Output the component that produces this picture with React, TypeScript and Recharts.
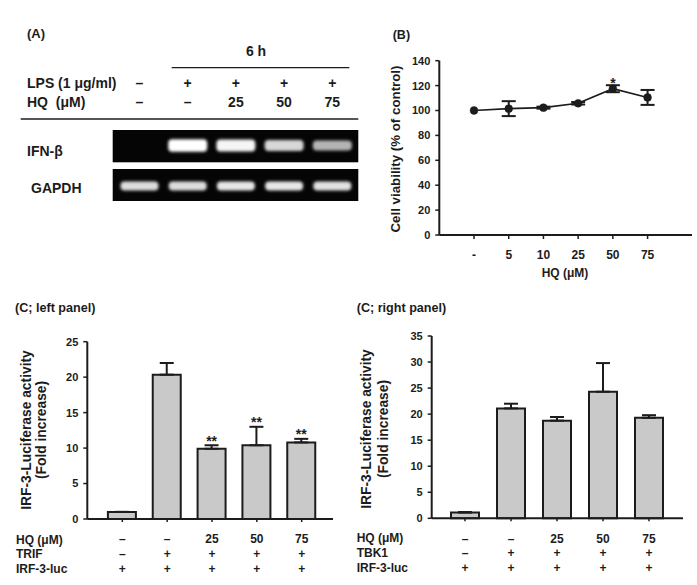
import React from 'react';
import { LineChart, Line, BarChart, Bar, XAxis, YAxis, ErrorBar, LabelList } from 'recharts';

const FONT = '"Liberation Sans", Arial, Helvetica, sans-serif';
const INK = '#1c1c1c';
const BAR_FILL = '#c9c9c9';

// ---------- Panel A (RT-PCR gel) ----------
const lpsSigns = ['–', '+', '+', '+', '+'];
const gelHQ = ['–', '–', '25', '50', '75'];
const ifnIntensity = [0, 1.0, 0.96, 0.84, 0.7];
const gapdhIntensity = [0.86, 0.86, 0.9, 0.9, 0.88];

// ---------- Panel B (cell viability) ----------
const viabilityCategories = ['-', '5', '10', '25', '50', '75'];
const viabilityValues = [100, 101.5, 102.3, 105.8, 117.5, 110.5];
const viabilityErrors = [0, 6, 0.8, 1, 2.8, 6];
const viabilitySig = ['', '', '', '', '*', ''];
const viabilityTicks = [0, 20, 40, 60, 80, 100, 120, 140];

// ---------- Panel C left (TRIF) ----------
const trifHQ = ['–', '–', '25', '50', '75'];
const trifTRIF = ['–', '+', '+', '+', '+'];
const trifLuc = ['+', '+', '+', '+', '+'];
const trifValues = [1, 20.35, 9.9, 10.4, 10.8];
const trifErrors = [0, 1.65, 0.5, 2.6, 0.5];
const trifSig = ['', '', '**', '**', '**'];
const trifTicks = [0, 5, 10, 15, 20, 25];

// ---------- Panel C right (TBK1) ----------
const tbkHQ = ['–', '–', '25', '50', '75'];
const tbkTBK1 = ['–', '+', '+', '+', '+'];
const tbkLuc = ['+', '+', '+', '+', '+'];
const tbkValues = [1.1, 21.1, 18.75, 24.3, 19.3];
const tbkErrors = [0.1, 0.9, 0.7, 5.5, 0.5];
const tbkSig = ['', '', '', '', ''];
const tbkTicks = [0, 5, 10, 15, 20, 25, 30, 35];

const bData = viabilityCategories.map((c, i) => ({
  x: i + 1,
  cat: c,
  v: viabilityValues[i],
  e: viabilityErrors[i],
  sig: viabilitySig[i],
}));

const trifData = trifValues.map((v, i) => ({
  id: 'c' + i,
  v,
  err: [0, trifErrors[i]],
  sig: trifSig[i],
}));

const tbkData = tbkValues.map((v, i) => ({
  id: 'c' + i,
  v,
  err: [0, tbkErrors[i]],
  sig: tbkSig[i],
}));

const textStyle = { fontFamily: FONT, fontWeight: 700, fill: INK } as const;
const axisLine = { stroke: INK, strokeWidth: 2 };
const tickLine = { stroke: INK, strokeWidth: 1.5 };

// B geometry
const B_H = 250;
const B_TOP = 20.7;
const B_XH = 55;
const B_PLOT_H = B_H - B_TOP - B_XH;

const ROW_DY = [21.3, 35.6, 50.6];

const makeRowTick = (rows: string[][]) => (props: any) => {
  const { x, y, index } = props;
  return (
    <g>
      {rows.map((r, k) => (
        <text key={k} x={x} y={y + ROW_DY[k]} textAnchor="middle" fontSize={12} style={textStyle}>
          {r[index]}
        </text>
      ))}
    </g>
  );
};

const makeBarStar = (errors: number[], values: number[]) => (props: any) => {
  const { x, y, width, height, value, index } = props;
  if (!value) return null;
  const pxPerUnit = height / values[index];
  const errTop = y - errors[index] * pxPerUnit;
  return (
    <text x={x + width / 2} y={errTop + 0.5} textAnchor="middle" fontSize={14} style={textStyle}>
      {value}
    </text>
  );
};

const LineStar = (props: any) => {
  const { x, y, value, index } = props;
  if (!value) return null;
  const errTop = y - (viabilityErrors[index] * B_PLOT_H) / 140;
  return (
    <text x={x} y={errTop + 2.5} textAnchor="middle" fontSize={14} style={textStyle}>
      {value}
    </text>
  );
};

const LANE_X0 = 139.5;
const LANE_PITCH = 48.2;

function Overlay() {
  const laneX = (i: number) => LANE_X0 + LANE_PITCH * i;
  return (
    <svg width={697} height={585} style={{ position: 'absolute', left: 0, top: 0 }}>
      <defs>
        <filter id="bandBlur" x="-30%" y="-80%" width="160%" height="260%">
          <feGaussianBlur stdDeviation="1.4" />
        </filter>
      </defs>
      {/* Panel A */}
      <text x={27} y={38} fontSize={13} style={textStyle}>(A)</text>
      <text x={256} y={56} fontSize={14} textAnchor="middle" style={textStyle}>6 h</text>
      <line x1={171.7} x2={349.3} y1={67.7} y2={67.7} stroke={INK} strokeWidth={1.3} />
      <text x={27} y={88.3} fontSize={14} style={textStyle}>LPS (1 μg/ml)</text>
      <text x={27} y={106.7} fontSize={14} style={{ ...textStyle, whiteSpace: 'pre' }}>{'HQ  (μM)'}</text>
      {lpsSigns.map((s, i) => (
        <text key={'l' + i} x={laneX(i)} y={88.3} fontSize={14} textAnchor="middle" style={textStyle}>{s}</text>
      ))}
      {gelHQ.map((s, i) => (
        <text key={'h' + i} x={laneX(i)} y={106.7} fontSize={14} textAnchor="middle" style={textStyle}>{s}</text>
      ))}
      <line x1={20.7} x2={358.3} y1={119} y2={119} stroke={INK} strokeWidth={1.3} />
      <text x={27} y={155.5} fontSize={14} style={textStyle}>IFN-β</text>
      <text x={31} y={192.7} fontSize={14} style={textStyle}>GAPDH</text>
      <rect x={112.7} y={130} width={245.6} height={32.3} fill="#050505" />
      <rect x={112.7} y={169} width={245.6} height={32} fill="#050505" />
      {ifnIntensity.map((v, i) =>
        v > 0 ? (
          <rect
            key={'ifn' + i}
            x={laneX(i) - 19.5}
            y={145.5 - (4 + 8.5 * v) / 2}
            width={39}
            height={4 + 8.5 * v}
            rx={4}
            fill="#ffffff"
            fillOpacity={v}
            filter="url(#bandBlur)"
          />
        ) : null
      )}
      {gapdhIntensity.map((v, i) => (
        <rect
          key={'g' + i}
          x={laneX(i) - 19}
          y={186 - 4.5}
          width={38}
          height={9}
          rx={4}
          fill="#ffffff"
          fillOpacity={v}
          filter="url(#bandBlur)"
        />
      ))}

      {/* Panel B */}
      <text x={392.7} y={38.7} fontSize={12.5} style={textStyle}>(B)</text>
      <text
        x={400.3}
        y={149}
        fontSize={13.3}
        textAnchor="middle"
        transform="rotate(-90 400.3 149)"
        style={textStyle}
      >
        Cell viability (% of control)
      </text>
      <text x={565} y={277} fontSize={12} textAnchor="middle" style={textStyle}>HQ (μM)</text>

      {/* Panel C left */}
      <text x={15} y={311.7} fontSize={12.6} style={textStyle}>(C; left panel)</text>
      <g transform="rotate(-90 30.5 430)">
        <text x={30.5} y={430} fontSize={13.8} textAnchor="middle" style={textStyle}>IRF-3-Luciferase activity</text>
      </g>
      <g transform="rotate(-90 46 430)">
        <text x={46} y={430} fontSize={13.8} textAnchor="middle" style={textStyle}>(Fold increase)</text>
      </g>
      <text x={16} y={543.5} fontSize={12} style={textStyle}>HQ (μM)</text>
      <text x={16} y={557.8} fontSize={12} style={textStyle}>TRIF</text>
      <text x={16} y={572.7} fontSize={12} style={textStyle}>IRF-3-luc</text>

      {/* Panel C right */}
      <text x={356.7} y={311.7} fontSize={12.6} style={textStyle}>(C; right panel)</text>
      <g transform="rotate(-90 371 429)">
        <text x={371} y={429} fontSize={13.8} textAnchor="middle" style={textStyle}>IRF-3-Luciferase activity</text>
      </g>
      <g transform="rotate(-90 387.5 429)">
        <text x={387.5} y={429} fontSize={13.8} textAnchor="middle" style={textStyle}>(Fold increase)</text>
      </g>
      <text x={356.7} y={542.3} fontSize={12} style={textStyle}>HQ (μM)</text>
      <text x={356.7} y={556.7} fontSize={12} style={textStyle}>TBK1</text>
      <text x={356.7} y={571.7} fontSize={12} style={textStyle}>IRF-3-luc</text>
    </svg>
  );
}

function ViabilityChart() {
  return (
    <LineChart width={327} height={B_H} data={bData} margin={{ top: B_TOP, right: 5, left: 0, bottom: 0 }}>
      <XAxis
        dataKey="x"
        type="number"
        domain={[0, 7.28]}
        ticks={[1, 2, 3, 4, 5, 6]}
        tickFormatter={(v: number) => viabilityCategories[v - 1]}
        axisLine={axisLine}
        tickLine={tickLine}
        tickSize={4}
        tickMargin={11}
        height={B_XH}
        tick={{ ...textStyle, fontSize: 12 }}
        allowDataOverflow
      />
      <YAxis
        type="number"
        domain={[0, 140]}
        ticks={viabilityTicks}
        width={69.3}
        axisLine={axisLine}
        tickLine={tickLine}
        tickSize={4}
        tickMargin={5}
        tick={{ ...textStyle, fontSize: 11 }}
        interval={0}
      />
      <Line
        dataKey="v"
        stroke={INK}
        strokeWidth={1.6}
        dot={{ r: 3.9, fill: INK, stroke: INK, strokeWidth: 0.5 }}
        isAnimationActive={false}
      >
        <ErrorBar dataKey="e" direction="y" width={7} stroke={INK} strokeWidth={2} />
        <LabelList dataKey="sig" content={LineStar} />
      </Line>
    </LineChart>
  );
}

function LuciferaseChart(props: {
  data: any[];
  ticks: number[];
  max: number;
  rows: string[][];
  errors: number[];
  values: number[];
  marginTop: number;
  marginRight: number;
  yWidth: number;
  width: number;
  xHeight: number;
  padL: number;
  padR: number;
}) {
  const p = props;
  return (
    <BarChart
      width={p.width}
      height={265}
      data={p.data}
      margin={{ top: p.marginTop, right: p.marginRight, left: 0, bottom: 0 }}
    >
      <XAxis
        dataKey="id"
        axisLine={axisLine}
        tickLine={tickLine}
        tickSize={3}
        tickMargin={0}
        height={p.xHeight}
        padding={{ left: p.padL, right: p.padR }}
        tick={makeRowTick(p.rows)}
        interval={0}
      />
      <YAxis
        type="number"
        domain={[0, p.max]}
        ticks={p.ticks}
        width={p.yWidth}
        axisLine={axisLine}
        tickLine={tickLine}
        tickSize={4}
        tickMargin={5}
        tick={{ ...textStyle, fontSize: 11 }}
        interval={0}
      />
      <Bar dataKey="v" fill={BAR_FILL} stroke={INK} strokeWidth={2} barSize={28} isAnimationActive={false}>
        <ErrorBar dataKey="err" direction="y" width={7} stroke={INK} strokeWidth={2} />
        <LabelList dataKey="sig" content={makeBarStar(p.errors, p.values)} />
      </Bar>
    </BarChart>
  );
}

export default function App() {
  return (
    <div
      style={{
        position: 'absolute',
        left: 0,
        top: 0,
        width: 697,
        height: 585,
        background: '#ffffff',
        fontFamily: FONT,
        overflow: 'hidden',
      }}
    >
      <Overlay />
      <div style={{ position: 'absolute', left: 370, top: 40 }}>
        <ViabilityChart />
      </div>
      <div style={{ position: 'absolute', left: 0, top: 320 }}>
        <LuciferaseChart
          data={trifData}
          ticks={trifTicks}
          max={25}
          rows={[trifHQ, trifTRIF, trifLuc]}
          errors={trifErrors}
          values={trifValues}
          marginTop={21.7}
          marginRight={17}
          yWidth={87.3}
          width={350}
          xHeight={66}
          padL={12.6}
          padR={8.9}
        />
      </div>
      <div style={{ position: 'absolute', left: 350, top: 320 }}>
        <LuciferaseChart
          data={tbkData}
          ticks={tbkTicks}
          max={35}
          rows={[tbkHQ, tbkTBK1, tbkLuc]}
          errors={tbkErrors}
          values={tbkValues}
          marginTop={16}
          marginRight={14}
          yWidth={81.7}
          width={347}
          xHeight={66.7}
          padL={10.3}
          padR={11}
        />
      </div>
    </div>
  );
}
